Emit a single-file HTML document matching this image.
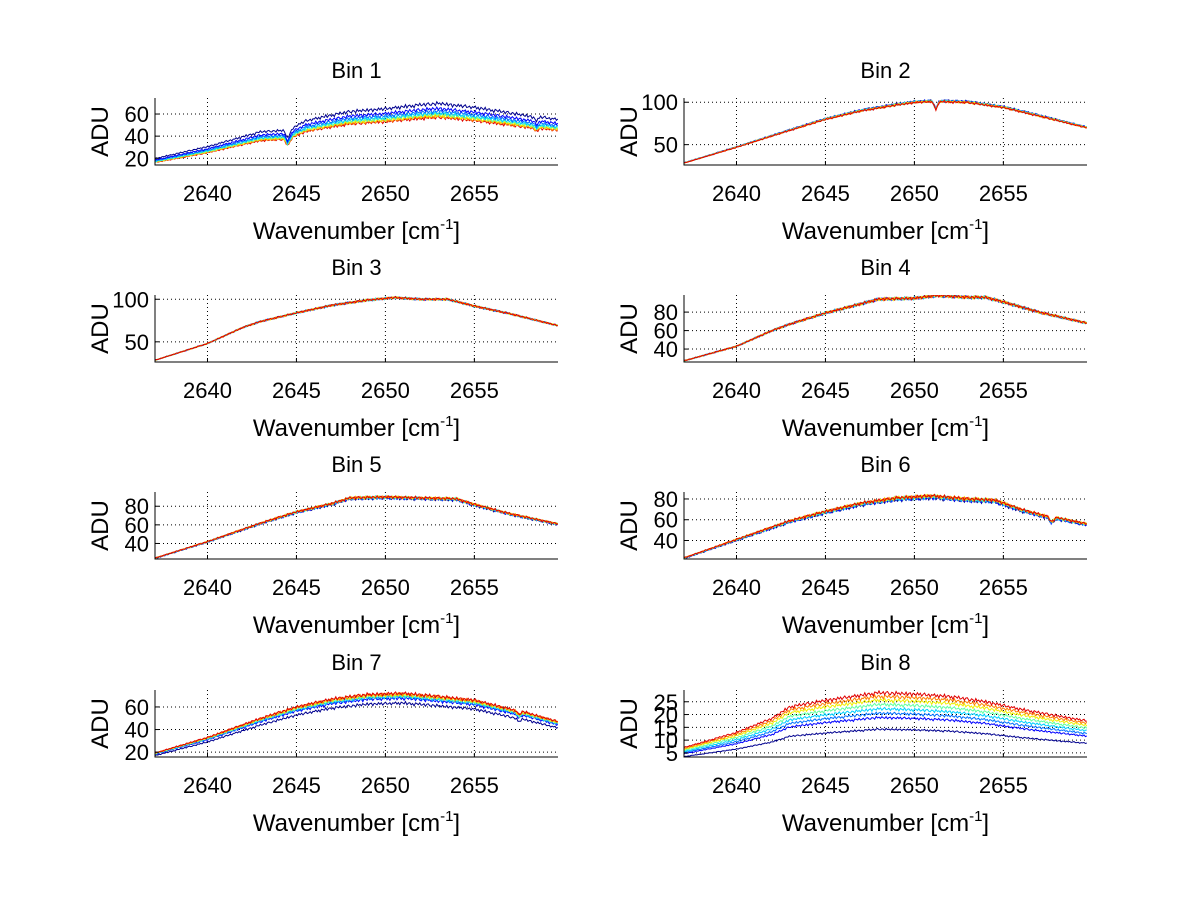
<!DOCTYPE html>
<html><head><meta charset="utf-8"><style>
html,body{margin:0;padding:0;background:#fff;}
svg{display:block;font-family:"Liberation Sans",sans-serif;}
</style></head><body>
<svg id="fig" width="1200" height="901" viewBox="0 0 1200 901" xmlns="http://www.w3.org/2000/svg">
<rect width="1200" height="901" fill="#fff"/>
</svg>
<script>
const xTicks = [2640, 2645, 2650, 2655];
const xMin = 2637.05, xMax = 2659.7;
const seriesColors = ["#00008f","#0000ff","#0070ff","#00d0ff","#60ffa0","#f0f000","#ff8000","#e00000"];
const binTitles = ["Bin 1","Bin 2","Bin 3","Bin 4","Bin 5","Bin 6","Bin 7","Bin 8"];
const yRanges = [[13.9,74.5],[26,105],[26.3,105],[26,98.5],[23.3,95.3],[22.2,86.7],[15.7,75],[3.4,29.6]];
const yTicks = [[20,40,60],[50,100],[50,100],[40,60,80],[40,60,80],[40,60,80],[20,40,60],[5,10,15,20,25]];
const knotX = [
 [2637,2640,2643,2644.3,2644.5,2644.8,2645.5,2646.5,2648,2650,2652,2653,2655,2657,2658.3,2658.5,2658.7,2659.7],
 [2637,2640,2643,2645,2647,2649,2650,2651,2651.2,2651.4,2653,2655,2657,2659.7],
 [2637,2640,2642,2643,2645,2647,2649,2650.5,2652,2653.5,2655,2657,2659.7],
 [2637,2640,2642,2643,2645,2647,2648,2650,2651.3,2653,2654,2655,2657,2659.7],
 [2637,2640,2643,2645,2647,2648,2650,2652,2654,2655,2657,2659.7],
 [2637,2640,2643,2645,2647,2649,2651,2653,2654.5,2656,2657.5,2657.7,2658,2659.7],
 [2637,2640,2643,2645,2647,2649,2651,2652.5,2655,2657.3,2657.5,2657.7,2659.7],
 [2637,2640,2642,2643,2645,2646.5,2648,2650,2652,2654,2656,2658,2659.7]
];
const knotY = [
 [16,25,36,37,31,39,44,47,51,53,56,57,54,50,47,44,47,45],
 [28,47,67,80,90,97,100,101,91,101,100,94,84,70],
 [28,48,67,74,84,93,99,102,100,100,92,83,69],
 [27,43,60,67,79,89,94,95,98,96,96,91,80,68],
 [24,42,62,74,83,89,90,89,88,82,72,61],
 [23,41,59,68,76,81,83,80,79,70,63,58,62,56],
 [19,33,50,60,67,71,72,70,66,57,53,56,47],
 [7,13,18.5,23,25.5,27,28.5,28,27,25,22,19.5,17.5]
];
const seriesMult = [
 [1.22,1.14,1.10,1.07,1.05,1.03,1.015,1],
 [1.01,1.008,1.006,1.004,1.002,1,0.998,0.996],
 [1,1,1,1,1,1,1,1],
 [1,1,1,1,1,1,1,1],
 [0.985,0.99,0.993,0.996,0.998,1,1,1],
 [0.975,0.98,0.985,0.99,0.995,1,1,1],
 [0.88,0.94,0.955,0.965,0.975,0.985,0.993,1],
 [0.5,0.66,0.72,0.78,0.84,0.9,0.95,1]
];
const ripple = [0,1.2,-0.8,0.6,-1.4,0.9,0.2,-0.6,1.5,-1.1,0.4,0.8,-0.9,0.3,-1.6,1.0,0.5,-0.4,1.3,-0.7,-0.2,0.9,-1.2,0.6,1.1,-0.5,-1.0,0.7,0.2,-1.3,1.4,-0.3,0.5,-0.9,1.0,-0.1,-0.7,1.2,-1.0,0.4,0.8,-1.5,0.6,0.1,-0.8,1.1,-0.4,0.9,-1.1,0.3,1.3,-0.6,-0.2,0.7,-1.2,0.5];
const rippleAmp = [0.018,0.009,0.009,0.012,0.012,0.015,0.016,0.02];

const NS="http://www.w3.org/2000/svg";
const svg=document.getElementById('fig');
function mk(tag,attrs,parent){const e=document.createElementNS(NS,tag);for(const k in attrs)e.setAttribute(k,attrs[k]);(parent||svg).appendChild(e);return e;}
function interp(xs,ys,x){if(x<=xs[0])return ys[0];for(let i=1;i<xs.length;i++){if(x<=xs[i]){const t=(x-xs[i-1])/(xs[i]-xs[i-1]);return ys[i-1]+t*(ys[i]-ys[i-1]);}}return ys[ys.length-1];}

const colLeft=[155,684], axW=403, rowTop=[98,295,492,690], axH=67;
for(let b=0;b<8;b++){
  const col=b%2,row=Math.floor(b/2);
  const L=colLeft[col],T=rowTop[row],R=L+axW,B=T+axH;
  const [y0,y1]=yRanges[b];
  const sx=v=>L+(v-xMin)/(xMax-xMin)*axW;
  const sy=v=>B-(v-y0)/(y1-y0)*axH;
  const g=mk('g',{});
  
  
  const clipId='c'+b;
  const cp=mk('clipPath',{id:clipId},g);mk('rect',{x:L,y:T,width:axW,height:axH},cp);
  xTicks.forEach(t=>{const l=mk('line',{x1:sx(t),x2:sx(t),y1:T,y2:B,stroke:'#000','stroke-width':1,'stroke-dasharray':'1,3'},g);
    
    });
  yTicks[b].forEach(t=>{const l=mk('line',{x1:L,x2:R,y1:sy(t),y2:sy(t),stroke:'#000','stroke-width':1,'stroke-dasharray':'1,3'},g);
    
    });
  const lines=mk('g',{'clip-path':'url(#'+clipId+')'},g);
  const order=(b===0)?[7,6,5,4,3,2,1,0]:[0,1,2,3,4,5,6,7];
  order.forEach(s=>{
    let d='';let i=0;
    for(let x=xMin;x<=xMax+0.001;x+=0.08,i++){
      const base=interp(knotX[b],knotY[b],x)*seriesMult[b][s];
      const v=base*(1+rippleAmp[b]*ripple[(i+s*7)%ripple.length]);
      d+=(d?'L':'M')+sx(x).toFixed(1)+','+sy(v).toFixed(1);
    }
    const p=mk('path',{d:d,fill:'none',stroke:seriesColors[s],'stroke-width':1},lines);
    
    
  });
  const ax=mk('path',{d:`M${L},${T}V${B}H${R}`,fill:'none',stroke:'#000','stroke-width':1},g);
  
  
  xTicks.forEach(t=>{
    mk('line',{x1:sx(t),x2:sx(t),y1:B,y2:B-4,stroke:'#000'},g);
    const tx=mk('text',{x:sx(t),y:B+36,'font-size':22,'text-anchor':'middle'},g);tx.textContent=t;
    
    
  });
  yTicks[b].forEach(t=>{
    mk('line',{x1:L,x2:L+4,y1:sy(t),y2:sy(t),stroke:'#000'},g);
    const tx=mk('text',{x:L-6,y:sy(t)+8,'font-size':22,'text-anchor':'end'},g);tx.textContent=t;
    
    
  });
  const ti=mk('text',{x:L+axW/2,y:T-20,'font-size':22,'text-anchor':'middle'},g);ti.textContent=binTitles[b];
  
  
  const xl=mk('text',{x:L+axW/2,y:B+74,'font-size':24,'text-anchor':'middle'},g);
  xl.innerHTML='Wavenumber [cm<tspan dy="-10" font-size="15">-1</tspan><tspan dy="10">]</tspan>';
  
  
  const yl=mk('text',{x:0,y:0,'font-size':24,'text-anchor':'middle',transform:`translate(${L-47},${T+axH/2}) rotate(-90)`},g);yl.textContent='ADU';
  
  
}
</script>
</body></html>
